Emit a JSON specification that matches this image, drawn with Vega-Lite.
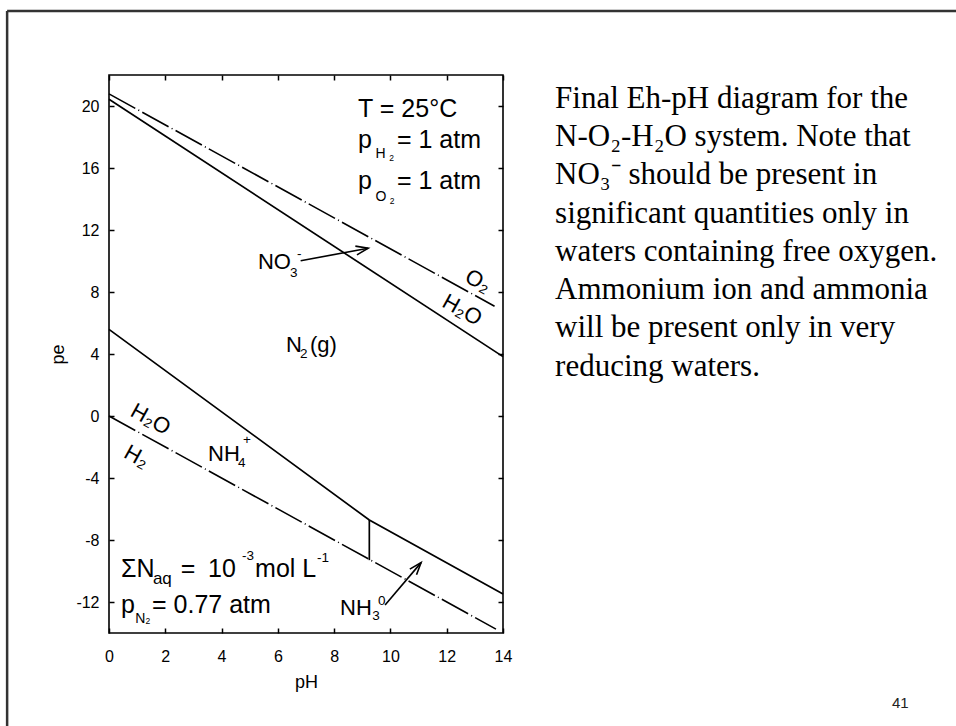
{
  "$schema": "https://vega.github.io/schema/vega-lite/v6.json",
  "width": 394,
  "height": 558,
  "autosize": {"type": "none"},
  "padding": {"left": 109, "top": 75, "right": 453, "bottom": 93},
  "background": "white",
  "config": {
    "view": {"stroke": "black", "strokeWidth": 1.6},
    "font": "Liberation Sans",
    "text": {"font": "Liberation Sans", "color": "black", "align": "left", "baseline": "alphabetic"}
  },
  "datasets": {
    "solid": [
      {"seg": "NO3-N2", "i": 0, "pH": 0, "pe": 20.43},
      {"seg": "NO3-N2", "i": 1, "pH": 14, "pe": 3.83},
      {"seg": "N2-NH", "i": 0, "pH": 0, "pe": 5.59},
      {"seg": "N2-NH", "i": 1, "pH": 9.25, "pe": -6.71},
      {"seg": "N2-NH", "i": 2, "pH": 14, "pe": -11.48},
      {"seg": "NH4-NH3", "i": 0, "pH": 9.25, "pe": -6.71},
      {"seg": "NH4-NH3", "i": 1, "pH": 9.25, "pe": -9.3}
    ],
    "dashed": [
      {"seg": "O2-H2O", "i": 0, "pH": 0, "pe": 20.78},
      {"seg": "O2-H2O", "i": 1, "pH": 13.7, "pe": 7.08},
      {"seg": "H2O-H2", "i": 0, "pH": 0, "pe": 0},
      {"seg": "H2O-H2", "i": 1, "pH": 13.75, "pe": -13.75}
    ],
    "arrows": [
      {"name": "NO3", "pH": 9.21, "pe": 10.82, "pH2": 6.81, "pe2": 10.02},
      {"name": "NH3", "pH": 11.09, "pe": -9.46, "pH2": 9.81, "pe2": -12.19}
    ],
    "border": [
      {"pH": -3.62, "pe": 26.13, "pH2": -3.62, "pe2": -20.2},
      {"pH": -3.62, "pe": 26.13, "pH2": 30.2, "pe2": 26.13}
    ],
    "t25": [
      {"t": "T = 25°C", "pH": 8.85, "pe": 19.29},
      {"t": "p", "pH": 8.85, "pe": 17.29},
      {"t": "= 1 atm", "pH": 10.23, "pe": 17.29},
      {"t": "p", "pH": 8.85, "pe": 14.62},
      {"t": "= 1 atm", "pH": 10.23, "pe": 14.62},
      {"t": "ΣN", "pH": 0.43, "pe": -10.37},
      {"t": "=", "pH": 2.55, "pe": -10.37},
      {"t": "10", "pH": 3.52, "pe": -10.37},
      {"t": "mol L", "pH": 5.19, "pe": -10.37},
      {"t": "p", "pH": 0.43, "pe": -12.69},
      {"t": "= 0.77 atm", "pH": 1.53, "pe": -12.69}
    ],
    "t22": [
      {"t": "NO", "pH": 5.29, "pe": 9.48},
      {"t": "N", "pH": 6.29, "pe": 4.13},
      {"t": "(g)", "pH": 7.14, "pe": 4.13},
      {"t": "NH", "pH": 3.52, "pe": -2.88},
      {"t": "NH", "pH": 8.21, "pe": -12.84}
    ],
    "t17": [
      {"t": "aq", "pH": 1.56, "pe": -10.84}
    ],
    "t13": [
      {"t": "3", "pH": 6.43, "pe": 8.97},
      {"t": "-", "pH": 6.68, "pe": 10.17},
      {"t": "2", "pH": 6.79, "pe": 3.74},
      {"t": "4", "pH": 4.58, "pe": -3.29},
      {"t": "+", "pH": 4.76, "pe": -1.78},
      {"t": "3", "pH": 9.35, "pe": -13.16},
      {"t": "0", "pH": 9.56, "pe": -12.19},
      {"t": "-3", "pH": 4.73, "pe": -9.29},
      {"t": "-1", "pH": 7.39, "pe": -9.4}
    ],
    "t12": [
      {"t": "H", "pH": 9.47, "pe": 16.63},
      {"t": "O", "pH": 9.47, "pe": 13.89},
      {"t": "N", "pH": 0.93, "pe": -13.38}
    ],
    "t7": [
      {"t": "2", "pH": 9.96, "pe": 16.45},
      {"t": "2", "pH": 9.98, "pe": 13.7},
      {"t": "2", "pH": 1.3, "pe": -13.45}
    ],
    "rot": [
      {"t": "O₂", "pH": 13.12, "pe": 8.71},
      {"t": "H₂O", "pH": 12.55, "pe": 6.84},
      {"t": "H₂O", "pH": 1.48, "pe": -0.21},
      {"t": "H₂", "pH": 0.98, "pe": -2.62}
    ],
    "caption": [
      {"t": "Final Eh-pH diagram for the", "pH": 15.85, "pe": 19.87},
      {"t": "N-O₂-H₂O system. Note that", "pH": 15.85, "pe": 17.41},
      {"t": "NO₃⁻ should be present in", "pH": 15.85, "pe": 14.94},
      {"t": "significant quantities only in", "pH": 15.85, "pe": 12.47},
      {"t": "waters containing free oxygen.", "pH": 15.85, "pe": 10.01},
      {"t": "Ammonium ion and ammonia", "pH": 15.85, "pe": 7.54},
      {"t": "will be present only in very", "pH": 15.85, "pe": 5.08},
      {"t": "reducing waters.", "pH": 15.85, "pe": 2.61}
    ],
    "page": [
      {"t": "41", "pH": 27.82, "pe": -18.84}
    ]
  },
  "encoding": {
    "x": {"field": "pH", "type": "quantitative", "scale": {"domain": [0, 14], "nice": false, "zero": false}, "axis": null},
    "y": {"field": "pe", "type": "quantitative", "scale": {"domain": [-14, 22], "nice": false, "zero": false}, "axis": null}
  },
  "layer": [
    {
      "data": {"name": "border"},
      "mark": {"type": "rule", "stroke": "#333333", "strokeWidth": 2.5, "clip": false},
      "encoding": {
        "x2": {"field": "pH2"},
        "y2": {"field": "pe2"}
      }
    },
    {
      "data": {"name": "solid"},
      "mark": {"type": "line", "stroke": "black", "strokeWidth": 1.7},
      "encoding": {
        "x": {
          "field": "pH", "type": "quantitative",
          "scale": {"domain": [0, 14], "nice": false, "zero": false},
          "axis": {
            "orient": "bottom", "values": [0, 2, 4, 6, 8, 10, 12, 14], "domain": false, "grid": false,
            "tickSize": -5, "tickColor": "black", "tickWidth": 1.5, "labelPadding": 20,
            "labelExpr": "'' + datum.value",
            "labelFont": "Liberation Sans", "labelFontSize": 16, "labelColor": "black", "labelFlush": false,
            "title": "pH", "titleFont": "Liberation Sans", "titleFontSize": 18, "titleFontWeight": "normal",
            "titleColor": "black", "titlePadding": 9
          }
        },
        "y": {
          "field": "pe", "type": "quantitative",
          "scale": {"domain": [-14, 22], "nice": false, "zero": false},
          "axis": {
            "orient": "left", "values": [-12, -8, -4, 0, 4, 8, 12, 16, 20], "domain": false, "grid": false,
            "tickSize": -5, "tickColor": "black", "tickWidth": 1.5, "labelPadding": 15,
            "labelExpr": "'' + datum.value",
            "labelFont": "Liberation Sans", "labelFontSize": 16, "labelColor": "black", "labelFlush": false,
            "title": "pe", "titleFont": "Liberation Sans", "titleFontSize": 18, "titleFontWeight": "normal",
            "titleColor": "black", "titlePadding": 8
          }
        },
        "detail": {"field": "seg"},
        "order": {"field": "i"}
      }
    },
    {
      "data": {"name": "dashed"},
      "mark": {"type": "line", "stroke": "black", "strokeWidth": 1.6, "strokeDash": [30, 3.5, 1, 3.5]},
      "encoding": {
        "x": {
          "field": "pH", "type": "quantitative",
          "scale": {"domain": [0, 14], "nice": false, "zero": false},
          "axis": {
            "orient": "top", "values": [0, 2, 4, 6, 8, 10, 12, 14], "domain": false, "grid": false,
            "tickSize": -5, "tickColor": "black", "tickWidth": 1.5, "labels": false, "title": null
          }
        },
        "y": {
          "field": "pe", "type": "quantitative",
          "scale": {"domain": [-14, 22], "nice": false, "zero": false},
          "axis": {
            "orient": "right", "values": [-12, -8, -4, 0, 4, 8, 12, 16, 20], "domain": false, "grid": false,
            "tickSize": -5, "tickColor": "black", "tickWidth": 1.5, "labels": false, "title": null
          }
        },
        "detail": {"field": "seg"},
        "order": {"field": "i"}
      }
    },
    {
      "data": {"name": "arrows"},
      "mark": {"type": "rule", "stroke": "black", "strokeWidth": 1.6},
      "encoding": {
        "x2": {"field": "pH2"},
        "y2": {"field": "pe2"}
      }
    },
    {
      "data": {"name": "arrows"},
      "transform": [{"filter": "datum.name === 'NO3'"}],
      "mark": {"type": "point", "shape": "M-1,-0.36L0,0L-1,0.36", "size": 600, "filled": false, "stroke": "black", "strokeWidth": 1.6, "opacity": 1, "angle": -10.4},
      "encoding": {}
    },
    {
      "data": {"name": "arrows"},
      "transform": [{"filter": "datum.name === 'NH3'"}],
      "mark": {"type": "point", "shape": "M-1,-0.36L0,0L-1,0.36", "size": 600, "filled": false, "stroke": "black", "strokeWidth": 1.6, "opacity": 1, "angle": -49.6},
      "encoding": {}
    },
    {
      "data": {"name": "t25"},
      "mark": {"type": "text", "fontSize": 25},
      "encoding": {"text": {"field": "t"}}
    },
    {
      "data": {"name": "t22"},
      "mark": {"type": "text", "fontSize": 22},
      "encoding": {"text": {"field": "t"}}
    },
    {
      "data": {"name": "t17"},
      "mark": {"type": "text", "fontSize": 17},
      "encoding": {"text": {"field": "t"}}
    },
    {
      "data": {"name": "t13"},
      "mark": {"type": "text", "fontSize": 13.5},
      "encoding": {"text": {"field": "t"}}
    },
    {
      "data": {"name": "t12"},
      "mark": {"type": "text", "fontSize": 14},
      "encoding": {"text": {"field": "t"}}
    },
    {
      "data": {"name": "t7"},
      "mark": {"type": "text", "fontSize": 8.5},
      "encoding": {"text": {"field": "t"}}
    },
    {
      "data": {"name": "rot"},
      "mark": {"type": "text", "fontSize": 22, "angle": 29, "align": "center", "baseline": "middle"},
      "encoding": {"text": {"field": "t"}}
    },
    {
      "data": {"name": "caption"},
      "mark": {"type": "text", "font": "Liberation Serif", "fontSize": 31, "clip": false},
      "encoding": {"text": {"field": "t"}}
    },
    {
      "data": {"name": "page"},
      "mark": {"type": "text", "fontSize": 15, "color": "#222222", "clip": false},
      "encoding": {"text": {"field": "t"}}
    }
  ],
  "resolve": {"axis": {"x": "independent", "y": "independent"}}
}
